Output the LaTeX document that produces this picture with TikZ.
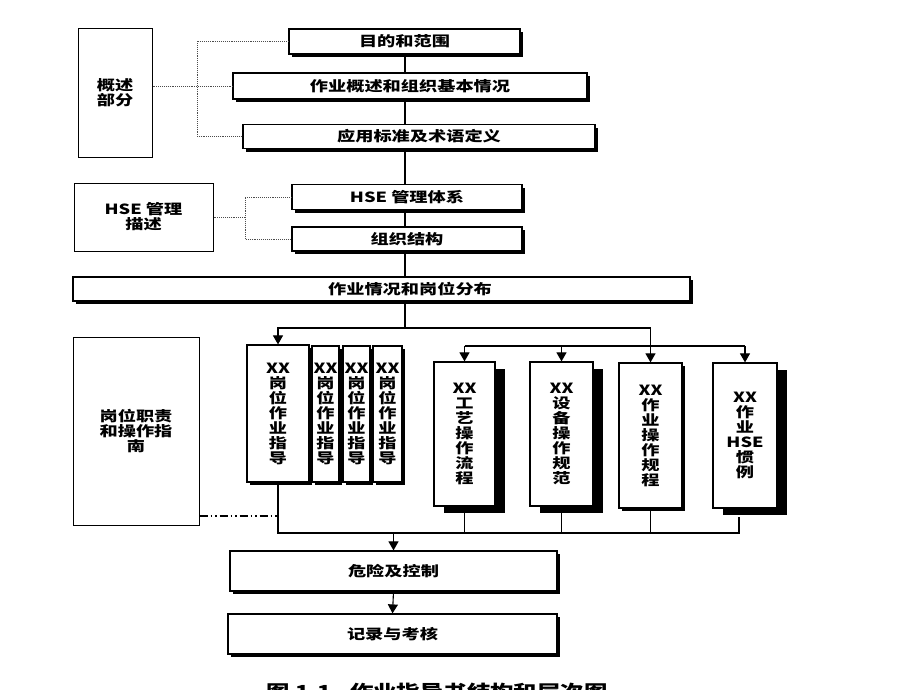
\documentclass[tikz,border=0pt]{standalone}
\usepackage{fontspec}
\usetikzlibrary{arrows.meta,shadows}
\newfontfamily\cjk[FakeStretch=1.3]{Noto Sans CJK SC}
\tikzset{
  txt/.style={font=\cjk\bfseries\fontsize{14}{15}\selectfont, align=center, inner sep=0pt},
  plain/.style={txt, draw, line width=1pt, fill=white},
  frame/.style={txt, draw, line width=1.2pt, fill=white},
  sheet/.style={frame, drop shadow={shadow xshift=3pt, shadow yshift=-3pt, fill=black, opacity=1}},
  page/.style={frame, drop shadow={shadow xshift=10pt, shadow yshift=-7pt, fill=black, opacity=1}},
  link/.style={line width=1.1pt},
  guide/.style={densely dotted, line width=0.9pt, black!70},
  tip/.style={link, -{Triangle[width=10pt,length=9pt]}}
}
\begin{document}
\begin{tikzpicture}[x=1pt,y=-1pt]
\useasboundingbox (0,0) rectangle (920,690);
\fill [white] (0,0) rectangle (920,690);
\clip (0,0) rectangle (920,690);
\coordinate (spine) at (405,0);
\coordinate (row1) at (0,328);
\coordinate (row2) at (0,346);
\coordinate (row3) at (0,533);
\coordinate (tap) at (0,516);
\coordinate (g1) at (197,0);
\coordinate (g2) at (245,0);
\node [plain, minimum width=74pt, minimum height=128pt] (gs) at (115,93) {概述\\部分};
\node [sheet, minimum width=231pt, minimum height=25pt] (mudi) at (404.5,41.5) {目的和范围};
\node [sheet, minimum width=354pt, minimum height=26pt] (gaishu) at (410,86) {作业概述和组织基本情况};
\node [sheet, minimum width=352pt, minimum height=24pt] (biaozhun) at (419,136.5) {应用标准及术语定义};
\node [plain, minimum width=139pt, minimum height=68pt] (hsems) at (143.5,217) {HSE 管理\\描述};
\node [sheet, minimum width=230pt, minimum height=25pt] (hsetx) at (407,197) {HSE 管理体系};
\node [sheet, minimum width=230pt, minimum height=24pt] (zuzhi) at (407,239) {组织结构};
\node [sheet, minimum width=617pt, minimum height=24pt] (fenbu) at (381.5,289) {};
\node [txt] (fenbutxt) at (410,289) {作业情况和岗位分布};
\node [plain, minimum width=126pt, minimum height=188pt] (gangwei) at (136,431) {岗位职责\\和操作指\\南};
\node [sheet, minimum width=62pt, minimum height=137pt] (zd1) at (278,413.5) {XX\\岗\\位\\作\\业\\指\\导};
\node [sheet, minimum width=27pt, minimum height=136pt] (zd2) at (325.5,414) {XX\\岗\\位\\作\\业\\指\\导};
\node [sheet, minimum width=27pt, minimum height=136pt] (zd3) at (356.5,414) {XX\\岗\\位\\作\\业\\指\\导};
\node [sheet, minimum width=29pt, minimum height=136pt] (zd4) at (387.5,414) {XX\\岗\\位\\作\\业\\指\\导};
\node [page, minimum width=61pt, minimum height=144pt] (gy) at (464.5,434) {XX\\工\\艺\\操\\作\\流\\程};
\node [page, minimum width=63pt, minimum height=144pt] (sb) at (561.5,434) {XX\\设\\备\\操\\作\\规\\范};
\node [sheet, minimum width=63pt, minimum height=145pt] (gc) at (650.5,435.5) {XX\\作\\业\\操\\作\\规\\程};
\node [page, minimum width=64pt, minimum height=145pt] (hs) at (745,435.5) {XX\\作\\业\\HSE\\惯\\例};
\node [sheet, minimum width=327pt, minimum height=40pt] (wx) at (393.5,571) {危险及控制};
\node [sheet, minimum width=329pt, minimum height=40pt] (jl) at (392.5,634) {记录与考核};
\node [font=\cjk\bfseries\fontsize{18}{20}\selectfont] (caption) at (437,692) {图 1.1\quad 作业指导书结构和层次图};
\coordinate (hsfoot) at (739,517);
\foreach \a/\b in {mudi/gaishu, gaishu/biaozhun, biaozhun/hsetx, hsetx/zuzhi, zuzhi/fenbu}
  \draw [link] (\a.south -| spine) -- (\b.north -| spine);
\draw [guide] (gaishu.west -| gs.east) -- (gaishu.west);
\draw [guide] (mudi.west) -| (g1 |- biaozhun.west) -- (biaozhun.west);
\draw [guide] (hsems.east) -- (hsems.east -| g2);
\draw [guide] (hsetx.west) -| (g2 |- zuzhi.west) -- (zuzhi.west);
\draw [link, dash pattern=on 8pt off 3pt on 1.5pt off 3pt on 1.5pt off 3pt] (gangwei.east |- tap) -- (zd1.south |- tap);
\draw [link] (fenbu.south -| spine) -- (spine |- row1);
\draw [tip] (spine |- row1) -| (zd1.north);
\draw [tip] (spine |- row1) -| (gc.north);
\draw [link] (gy.north |- row2) -- (hs.north |- row2);
\draw [tip] (gy.north |- row2) -- (gy.north);
\draw [tip] (sb.north |- row2) -- (sb.north);
\draw [tip] (hs.north |- row2) -- (hs.north);
\draw [link] (zd1.south) -- (zd1.south |- row3) -- (hsfoot |- row3) -- (hsfoot);
\draw [link] (gy.south) -- (gy.south |- row3);
\draw [link] (sb.south) -- (sb.south |- row3);
\draw [link] (gc.south) -- (gc.south |- row3);
\draw [tip] (wx.north |- row3) -- (wx.north);
\draw [tip] (wx.south) -- (jl.north);
\end{tikzpicture}
\end{document}
